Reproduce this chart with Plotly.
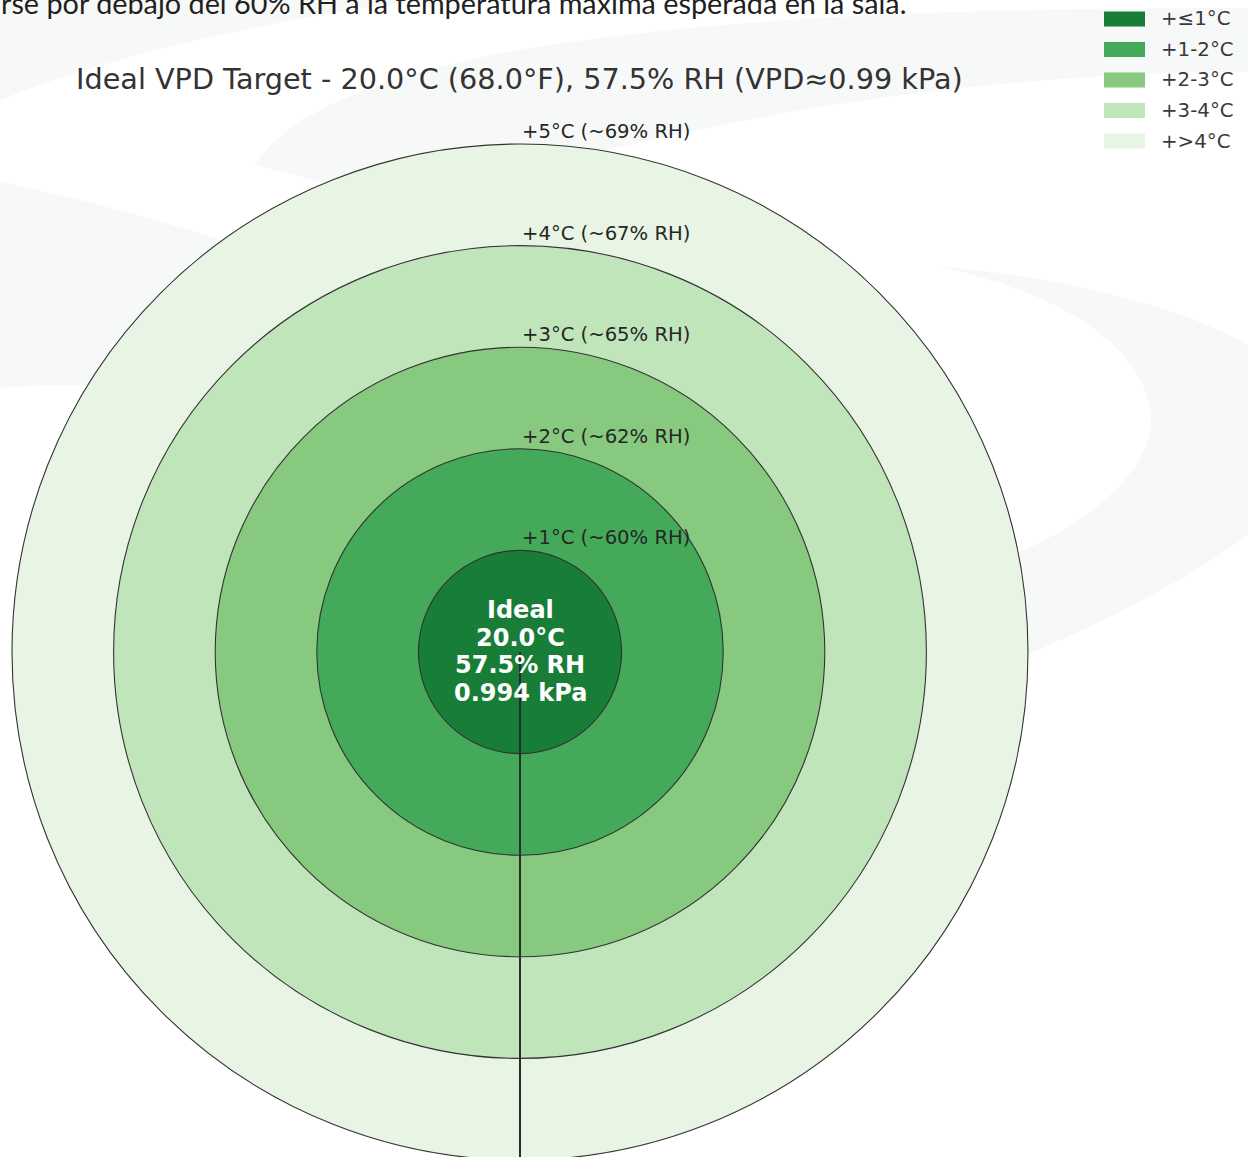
import plotly.graph_objects as go

# ---- figure geometry (pixels) ----
W, H = 1248, 1157
CX_PX, CY_PX = 520, 652      # centre of the target
UNIT = 101.6                 # pixels per 1 °C ring

# ---- data ----
ideal_temp_c = 20.0
ideal_rh = 57.5
ideal_vpd = 0.994
ring_offsets = [1, 2, 3, 4, 5]            # °C above ideal (ring outer edge)
ring_rh = [60, 62, 65, 67, 69]            # approx. RH at that offset
ring_colors = ["#187e37", "#44aa5a", "#86c97f", "#c1e5bb", "#e9f5e4"]
legend_labels = ["+≤1°C", "+1-2°C", "+2-3°C", "+3-4°C", "+>4°C"]
intro_text = "rse por debajo del 60% RH a la temperatura máxima esperada en la sala."

ideal_temp_f = ideal_temp_c * 9 / 5 + 32
title_text = (f"Ideal VPD Target - {ideal_temp_c:.1f}°C ({ideal_temp_f:.1f}°F), "
              f"{ideal_rh}% RH (VPD≈{ideal_vpd:.2f} kPa)")
center_lines = ["Ideal", f"{ideal_temp_c:.1f}°C", f"{ideal_rh}% RH", f"{ideal_vpd:.3f} kPa"]


def px(x):
    return x / W


def py(y):
    return 1 - y / H


def path_px(cmds):
    """Build an SVG path in paper units from pixel commands."""
    out = []
    for c in cmds:
        letter, pts = c[0], c[1:]
        seg = letter + " " + " ".join(f"{px(a):.5f},{py(b):.5f}" for a, b in pts)
        out.append(seg)
    return " ".join(out) + " Z"


fig = go.Figure()
shapes = []

# faint background watermark swirl
swirl_color = "#f7f9f8"
swirls = [
    [("M", (0, 0)), ("L", (420, 0)), ("C", (260, 22), (110, 55), (0, 100))],
    [("M", (255, 165)), ("C", (290, 110), (390, 72), (530, 48)),
     ("C", (720, 18), (930, 8), (1248, 8)), ("L", (1248, 72)),
     ("C", (1090, 72), (930, 88), (790, 112)), ("C", (640, 140), (520, 165), (430, 210))],
    [("M", (0, 182)), ("C", (80, 198), (170, 222), (250, 250)),
     ("L", (120, 385)), ("C", (70, 385), (30, 385), (0, 388))],
    [("M", (940, 267)), ("C", (1050, 275), (1180, 305), (1248, 345)),
     ("L", (1248, 535)), ("C", (1180, 585), (1080, 635), (1000, 665)),
     ("L", (1000, 560)), ("C", (1080, 530), (1160, 470), (1150, 410)),
     ("C", (1140, 340), (1050, 290), (940, 267))],
]
for s in swirls:
    shapes.append(dict(type="path", xref="paper", yref="paper", path=path_px(s),
                       fillcolor=swirl_color, line=dict(width=0), layer="below"))

# concentric rings, largest first so smaller discs sit on top
for r, col in sorted(zip(ring_offsets, ring_colors), reverse=True):
    shapes.append(dict(type="circle", xref="x", yref="y", x0=-r, x1=r, y0=-r, y1=r,
                       fillcolor=col, line=dict(color="#333333", width=1.1), layer="below"))

# radial edge from the centre down to the outer ring
fig.add_trace(go.Scatter(x=[0, 0], y=[0, -ring_offsets[-1]], mode="lines",
                         line=dict(color="#2b2b2b", width=2), hoverinfo="skip",
                         showlegend=False))

annotations = []
# ring labels at the top of each boundary
for r, h in zip(ring_offsets, ring_rh):
    annotations.append(dict(x=0.0, y=r + 12.5 / UNIT, xref="x", yref="y",
                            text=f"+{r}°C (~{h}% RH)", showarrow=False,
                            xanchor="left", yanchor="middle",
                            font=dict(family="DejaVu Sans", size=19.6, color="#262626")))

# centre text
for i, line in enumerate(center_lines):
    annotations.append(dict(x=0, y=(CY_PX - (610 + i * 27.7)) / UNIT, xref="x", yref="y",
                            text=f"<b>{line}</b>", showarrow=False,
                            xanchor="center", yanchor="middle",
                            font=dict(family="DejaVu Sans", size=24, color="white")))

# title
annotations.append(dict(x=px(519), y=py(79), xref="paper", yref="paper", text=title_text,
                        showarrow=False, xanchor="center", yanchor="middle",
                        font=dict(family="DejaVu Sans", size=28.7, color="#333333")))

# page sentence running off the top edge
annotations.append(dict(x=px(-1), y=py(3), xref="paper", yref="paper", text=intro_text,
                        showarrow=False, xanchor="left", yanchor="middle",
                        font=dict(family="Lato", size=28.8, color="#1f1f1f")))

# legend
leg_y = [19, 49.5, 80, 110.5, 141]
for lab, col, yy in zip(legend_labels, ring_colors, leg_y):
    shapes.append(dict(type="rect", xref="paper", yref="paper",
                       x0=px(1104), x1=px(1145), y0=py(yy + 7.5), y1=py(yy - 7.5),
                       fillcolor=col, line=dict(width=0)))
    annotations.append(dict(x=px(1159), y=py(yy), xref="paper", yref="paper", text=lab,
                            showarrow=False, xanchor="left", yanchor="middle",
                            font=dict(family="DejaVu Sans", size=19.8, color="#3a3a3a")))

fig.update_layout(
    width=W, height=H,
    margin=dict(l=0, r=0, t=0, b=0),
    paper_bgcolor="white", plot_bgcolor="rgba(0,0,0,0)",
    xaxis=dict(range=[-CX_PX / UNIT, (W - CX_PX) / UNIT], visible=False, fixedrange=True),
    yaxis=dict(range=[-(H - CY_PX) / UNIT, CY_PX / UNIT], visible=False, fixedrange=True),
    shapes=shapes, annotations=annotations, showlegend=False,
)

fig.write_html("out.html", config={"displayModeBar": False})
